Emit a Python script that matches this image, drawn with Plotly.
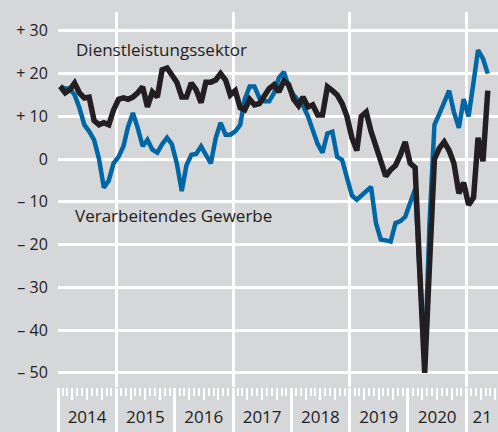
import plotly.graph_objects as go

# ---- data (monthly, Jan 2014 - May 2021) ----
start_year = 2014
verarbeitendes_gewerbe = [
    17, 16.5, 16.5, 15, 12, 8, 6.5, 4.5, 0, -6.7, -5, -1,          # 2014
    0.5, 3, 7.5, 10.8, 7.3, 3, 4.5, 2.2, 1.5, 3.5, 5, 3.5,          # 2015
    -1, -7.5, -1.5, 1, 1.2, 3, 1, -1, 5, 8.5, 5.7, 5.7,             # 2016
    6.5, 8, 14, 17, 17, 14.3, 13.5, 13.5, 15.5, 19, 20.4, 17,       # 2017
    15, 13.5, 12.5, 10, 6.5, 3.5, 1.5, 6, 6.4, 0.5, -0.2, -4,       # 2018
    -8.5, -9.5, -8.5, -7.5, -6.5, -15, -18.8, -19, -19.3, -15, -14.5, -13.5,  # 2019
    -10, -7, -27, -48, -15, 8, 10.5, 13, 16, 11, 7.3, 14,          # 2020
    10, 18, 25.5, 23.5, 20,                                         # 2021
]
dienstleistungssektor = [
    17, 15.5, 16.2, 17.8, 15.5, 14.3, 14.5, 9, 8, 8.5, 8, 11.5,     # 2014
    14, 14.3, 14, 14.5, 15.5, 16.9, 12.2, 15.7, 14.5, 20.9, 21.3, 19.7,  # 2015
    18, 14.5, 14.5, 17.8, 16.2, 13.2, 18, 18, 18.5, 20, 18.5, 15,   # 2016
    16, 12, 11.5, 14, 12.7, 13, 15, 16.5, 17.4, 15.7, 18.3, 17.4,   # 2017
    14, 12.5, 14.5, 12.2, 12.7, 10.3, 10.3, 16.9, 16, 15, 13, 10,   # 2018
    5, 2, 10, 11, 6.5, 3, -1, -4, -2.5, -1.5, 1, 4,                 # 2019
    -1, -2, -26, -50, -25, 0, 2.5, 4, 2, -1, -8, -5.5,             # 2020
    -10.7, -9, 5, -0.5, 16,                                         # 2021
]
series_names = ["Verarbeitendes Gewerbe", "Dienstleistungssektor"]
y_ticks = [-50, -40, -30, -20, -10, 0, 10, 20, 30]
y_tick_text = ["\u2013 50", "\u2013 40", "\u2013 30", "\u2013 20", "\u2013 10", "0", "+ 10", "+ 20", "+ 30"]
year_labels = ["2014", "2015", "2016", "2017", "2018", "2019", "2020", "21"]

n = len(dienstleistungssektor)
dates = [f"{start_year + i // 12}-{i % 12 + 1:02d}-15" for i in range(n)]

x_start = "2014-01-01"
x_end = "2021-07-18"
x_range = [x_start, x_end]

years = list(range(2014, 2022))
year_starts = [f"{y}-01-01" for y in years]
grid_years = [f"{y}-01-01" for y in years if y % 2 == 1]
month_ticks = [f"{y}-{m:02d}-01" for y in years for m in range(2, 13) if m not in (4, 7, 10)]
quarter_ticks = [f"{y}-{m:02d}-01" for y in years for m in (4, 7, 10)]
label_pos = [f"{y}-07-02" for y in years[:-1]] + ["2021-04-10"]

BG = "#d6d7d9"
TXT = "#222222"
BLUE = "#0067a7"
BLACK = "#231f20"
FONT = "Open Sans"

fig = go.Figure()
fig.add_trace(go.Scatter(x=dates, y=verarbeitendes_gewerbe, mode="lines", name=series_names[0],
                         line=dict(color=BLUE, width=4.5), showlegend=False))
fig.add_trace(go.Scatter(x=dates, y=dienstleistungssektor, mode="lines", name=series_names[1],
                         line=dict(color=BLACK, width=5.5), showlegend=False))
for ax in ("x2", "x3", "x4", "x5"):
    fig.add_trace(go.Scatter(x=[], y=[], xaxis=ax, yaxis="y", showlegend=False, hoverinfo="skip"))

common = dict(type="date", range=x_range, showline=False, zeroline=False, showgrid=False)
fig.update_layout(
    width=498, height=432,
    margin=dict(l=58, r=0, t=12, b=45),
    paper_bgcolor=BG, plot_bgcolor=BG,
    font=dict(family=FONT, color=TXT),
    xaxis=dict(**{**common, "showgrid": True}, tickvals=grid_years, gridcolor="white", gridwidth=3,
               ticks="", showticklabels=False),
    xaxis2=dict(**common, overlaying="x", anchor="y", tickvals=month_ticks, ticks="outside",
                ticklen=8, tickwidth=2, tickcolor="white", showticklabels=False),
    xaxis3=dict(**common, overlaying="x", anchor="y", tickvals=quarter_ticks, ticks="outside",
                ticklen=12, tickwidth=2, tickcolor="white", showticklabels=False),
    xaxis4=dict(**common, overlaying="x", anchor="y", tickvals=year_starts, ticks="outside",
                ticklen=45, tickwidth=3, tickcolor="white", showticklabels=False),
    xaxis5=dict(**common, overlaying="x", anchor="y", tickvals=label_pos, ticktext=year_labels,
                ticks="outside", ticklen=15, tickcolor="rgba(0,0,0,0)",
                tickfont=dict(size=17, color=TXT, family=FONT)),
    yaxis=dict(range=[-53.3, 34.4], tickvals=y_ticks, ticktext=y_tick_text, showgrid=True,
               gridcolor="white", gridwidth=3, zeroline=False, showline=False,
               ticks="outside", ticklen=6, tickcolor="rgba(0,0,0,0)",
               tickfont=dict(size=16, color=TXT, family=FONT)),
    annotations=[
        dict(text="Dienstleistungssektor", xref="paper", yref="y", x=(74 - 58) / 440, y=25.6,
             xanchor="left", yanchor="middle", showarrow=False, font=dict(size=17, color=TXT, family=FONT)),
        dict(text="Verarbeitendes Gewerbe", xref="paper", yref="y", x=(73 - 58) / 440, y=-13.2,
             xanchor="left", yanchor="middle", showarrow=False, font=dict(size=17, color=TXT, family=FONT)),
    ],
)
fig.write_html("out.html", config={"displayModeBar": False},
               post_script="document.body.style.margin='0';document.body.style.background='%s';" % BG)
